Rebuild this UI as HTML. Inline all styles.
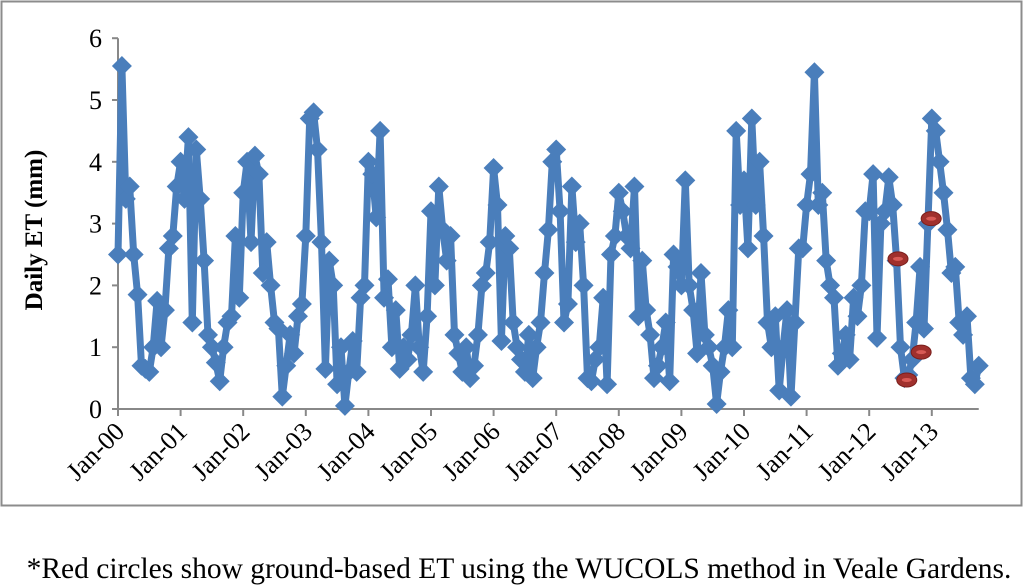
<!DOCTYPE html>
<html><head><meta charset="utf-8"><style>
html,body{margin:0;padding:0;background:#fff;width:1024px;height:588px;overflow:hidden}
text{font-family:"Liberation Serif",serif}
</style></head><body>
<svg id="chart" width="1024" height="588" xmlns="http://www.w3.org/2000/svg">
<rect x="1.5" y="1.5" width="1020" height="504" fill="#fff" stroke="#8c8c8c" stroke-width="2"/>
<g id="axes"></g>
<g id="series"></g>
<g id="obs"></g>
<text transform="translate(42,230) rotate(-90)" text-anchor="middle" font-size="25" font-weight="bold">Daily ET (mm)</text>
<text x="519" y="578" text-anchor="middle" font-size="29.5">*Red circles show ground-based ET using the WUCOLS method in Veale Gardens.</text>
</svg>
<script>
const yearLabels=["Jan-00","Jan-01","Jan-02","Jan-03","Jan-04","Jan-05","Jan-06","Jan-07","Jan-08","Jan-09","Jan-10","Jan-11","Jan-12","Jan-13"];
const yTicks=[0,1,2,3,4,5,6];
const et2000=[2.5,5.55,3.4,3.6,2.5,1.85,0.7,0.65,0.6,1.0,1.75,1.0,1.6,2.6,2.8,3.6];
const et2001=[4.0,3.4,4.4,1.4,4.2,3.4,2.4,1.2,1.0,0.75,0.45,1.0,1.4,1.5,2.8,1.8];
const et2002=[3.5,4.0,2.7,4.1,3.8,2.2,2.7,2.0,1.4,1.3,0.2,0.7,1.2,0.9,1.5,1.7];
const et2003=[2.8,4.7,4.8,4.2,2.7,0.65,2.4,2.0,0.4,1.0,0.05,0.6,1.1,0.6,1.8,2.0];
const et2004=[4.0,3.8,3.1,4.5,1.8,2.1,1.0,1.6,0.65,1.0,0.8,1.2,2.0,1.0,0.6,1.5];
const et2005=[3.2,2.0,3.6,2.9,2.4,2.8,1.2,0.9,0.6,1.0,0.5,0.7,1.2,2.0,2.2,2.7];
const et2006=[3.9,3.3,1.1,2.8,2.6,1.4,1.0,0.8,0.6,1.2,0.5,1.0,1.4,2.2,2.9,4.0];
const et2007=[4.2,3.2,1.4,1.7,3.6,2.7,3.0,2.0,0.5,0.45,0.8,1.0,1.8,0.4,2.5,2.8];
const et2008=[3.5,3.2,2.8,2.6,3.6,1.5,2.4,1.6,1.2,0.5,0.7,1.0,1.4,0.45,2.5,2.3];
const et2009=[2.0,3.7,2.0,1.6,0.9,2.2,1.2,1.0,0.7,0.08,0.6,1.0,1.6,1.0,4.5,3.3];
const et2010=[3.7,2.6,4.7,3.3,4.0,2.8,1.4,1.0,1.5,0.3,1.0,1.6,0.2,1.4,2.6,2.6];
const et2011=[3.3,3.8,5.45,3.3,3.5,2.4,2.0,1.8,0.7,0.9,1.2,0.8,1.8,1.5,2.0,3.2];
const et2012=[3.2,3.8,1.15,3.0,3.2,3.75,3.3,2.4,1.0,0.5,0.55,0.8,1.4,2.3,1.3,3.0];
const et2013=[4.7,4.5,4.0,3.5,2.9,2.2,2.3,1.4,1.2,1.5,0.5,0.4,0.7];
const obsTimes=[12.46,12.6,12.83,12.99];
const obsValues=[2.43,0.47,0.92,3.08];

const years=[et2000,et2001,et2002,et2003,et2004,et2005,et2006,et2007,et2008,et2009,et2010,et2011,et2012,et2013];
const NS="http://www.w3.org/2000/svg";
const X0=118,YEARW=62.6,Y0=409,YU=61.8;
const xs=t=>X0+t*YEARW;
const ys=v=>Y0-v*YU;
function mk(tag,attrs,parent){const e=document.createElementNS(NS,tag);for(const k in attrs)e.setAttribute(k,attrs[k]);parent.appendChild(e);return e;}
const axes=document.getElementById('axes');
let e;
e=mk('line',{x1:X0,y1:ys(6),x2:X0,y2:Y0,stroke:'#888','stroke-width':2},axes);


e=mk('line',{x1:X0-6,y1:Y0,x2:xs(13.75),y2:Y0,stroke:'#888','stroke-width':2},axes);


yTicks.forEach(v=>{
  e=mk('line',{x1:X0-6,y1:ys(v),x2:X0,y2:ys(v),stroke:'#888','stroke-width':2},axes);
  
  
  e=mk('text',{x:X0-16,y:ys(v)+9,'text-anchor':'end','font-size':26},axes);
  e.textContent=v;
  
  
});
yearLabels.forEach((l,i)=>{
  const x=xs(i);
  e=mk('line',{x1:x,y1:Y0,x2:x,y2:Y0+7,stroke:'#888','stroke-width':2},axes);
  
  
  e=mk('text',{transform:`translate(${x+8},${Y0+24}) rotate(-45)`,'text-anchor':'end','font-size':26},axes);
  e.textContent=l;
  
  
});
const pts=[];
years.forEach((arr,y)=>arr.forEach((v,i)=>pts.push([y+i/16,v])));
const g=document.getElementById('series');
e=mk('polyline',{points:pts.map(p=>xs(p[0]).toFixed(1)+','+ys(p[1]).toFixed(1)).join(' '),fill:'none',stroke:'#4a7ebb','stroke-width':7,'stroke-linejoin':'round'},g);


pts.forEach(p=>{
  const x=xs(p[0]),y=ys(p[1]),r=10;
  e=mk('polygon',{points:`${x},${y-r} ${x+r},${y} ${x},${y+r} ${x-r},${y}`,fill:'#4a7ebb'},g);
  
  
});
const og=document.getElementById('obs');
obsTimes.forEach((t,i)=>{
  e=mk('ellipse',{cx:xs(t),cy:ys(obsValues[i]),rx:10,ry:7,fill:'#a0302d',stroke:'#7a1f1c','stroke-width':1},og);
  
  
  mk('ellipse',{cx:xs(t),cy:ys(obsValues[i]),rx:5,ry:2,fill:'#d85a55'},og);
});
</script>
</body></html>
